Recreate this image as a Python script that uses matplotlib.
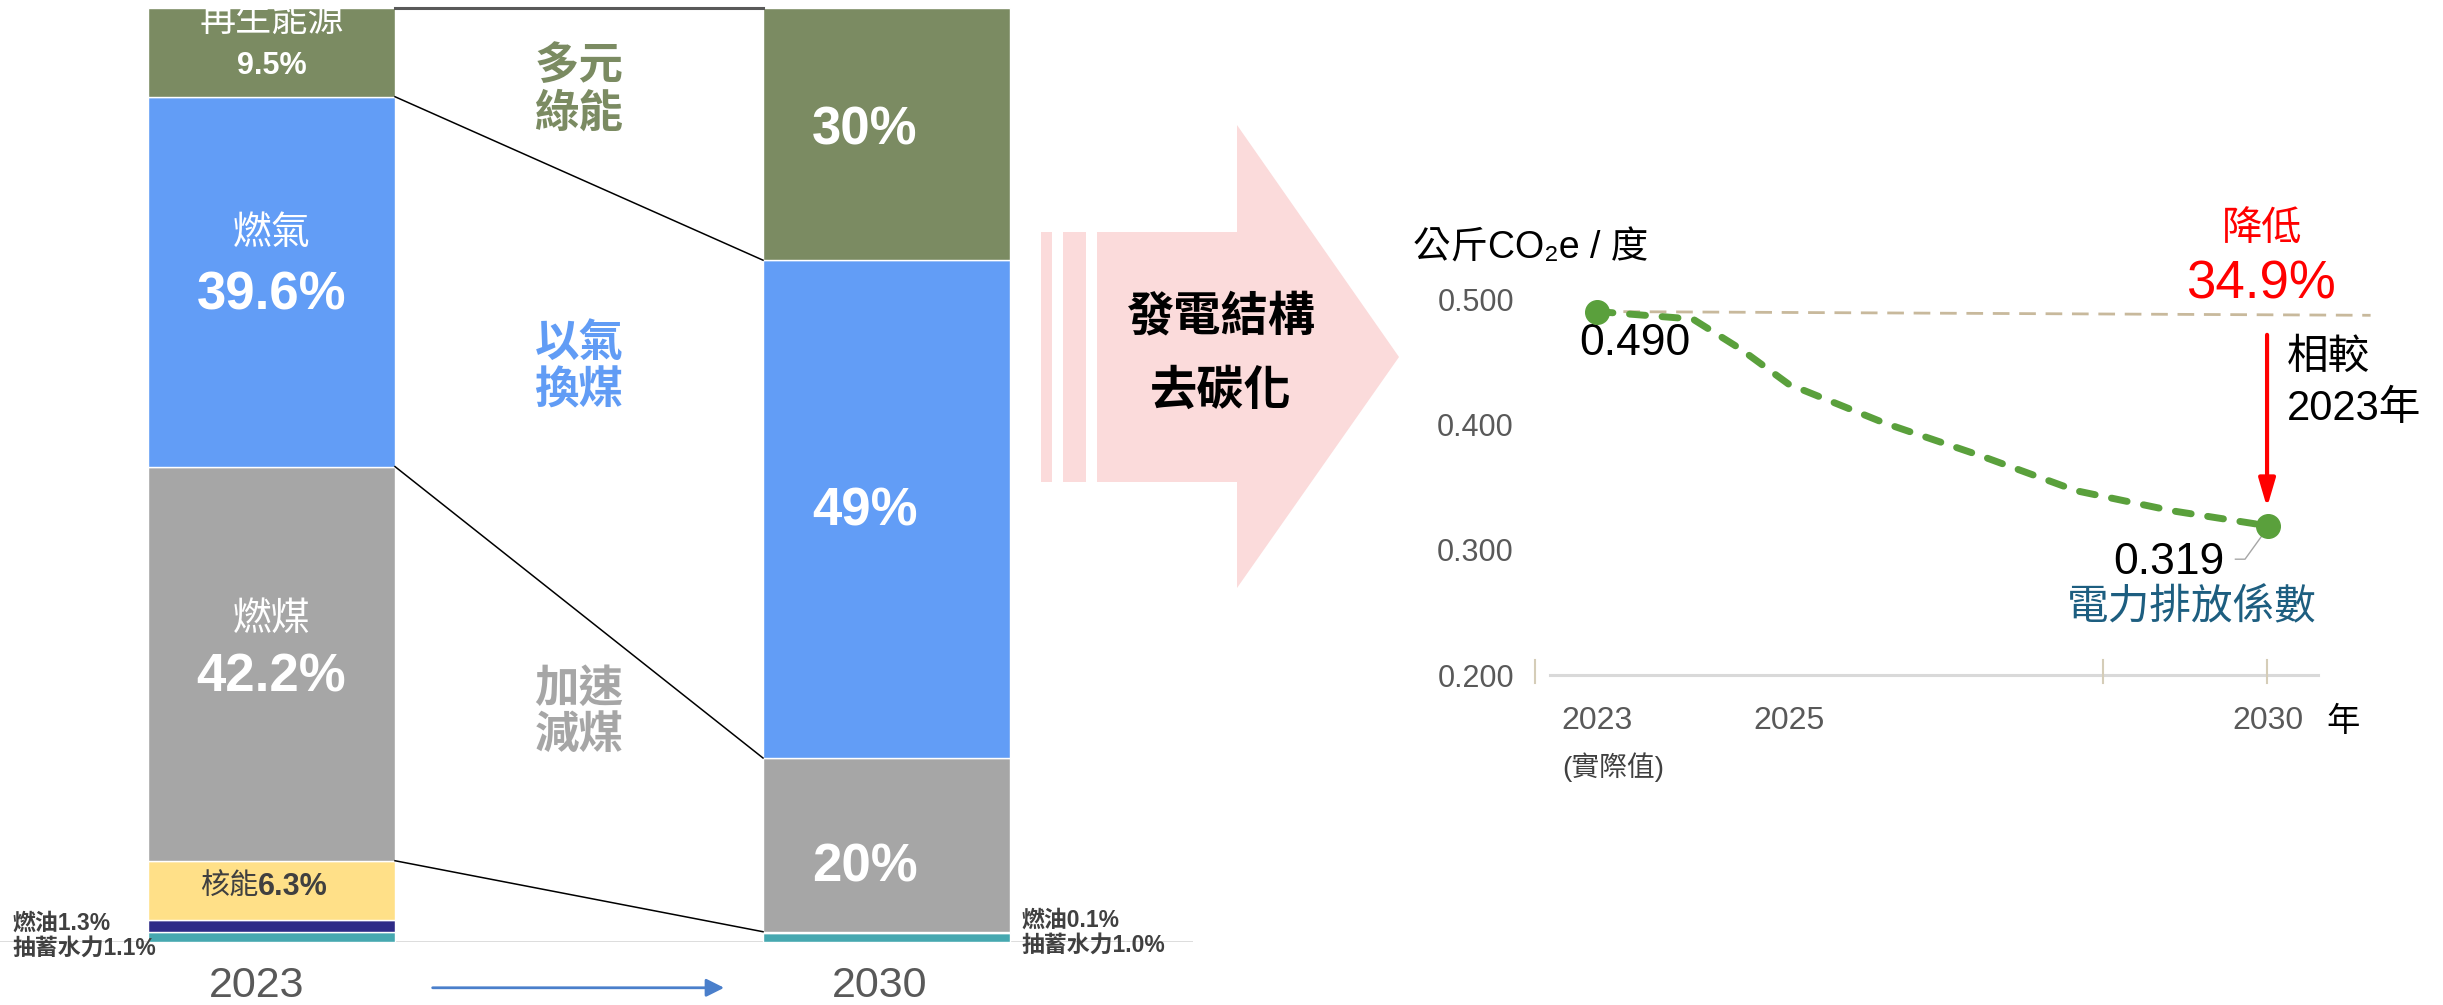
import numpy as np
import matplotlib.pyplot as plt
from matplotlib.patches import Polygon, Rectangle

# 發電結構 (%)，由下而上
fuel = ['抽蓄水力', '燃油', '核能', '燃煤', '燃氣', '再生能源']
fuel_colors = ['#46A8B0', '#2E2B87', '#FFE088', '#A6A6A6', '#629DF6', '#7B8B62']
share_2023 = [1.1, 1.3, 6.3, 42.2, 39.6, 9.5]
share_2030 = [1.0, 0.1, 0.0, 18.6, 53.3, 27.0]   # 圖上量到的高度
label_2030 = ['20%', '49%', '30%']                # 燃煤、燃氣、再生能源
years_bar = ['2023', '2030']

# 電力排放係數 (公斤CO2e/度)
ef_years = [2023, 2024, 2024.5, 2025, 2026, 2027, 2028, 2029, 2030]
ef_values = [0.490, 0.484, 0.460, 0.432, 0.401, 0.375, 0.347, 0.331, 0.319]
ref_years = [2023, 2031.07]
ref_values = [0.490, 0.487]
ytick_vals = [0.2, 0.3, 0.4, 0.5]
ytick_labels = ['0.200', '0.300', '0.400', '0.500']
xtick_vals = [2023, 2025, 2030]
xtick_labels = ['2023', '2025', '2030']
tick_marks = [2022.35, 2028.28, 2029.99]

# 字型
plt.rcParams['font.family'] = ['Liberation Sans', 'Noto Sans CJK TC', 'DejaVu Sans']

fig = plt.figure(figsize=(24.43, 10.05), dpi=100)

# ---- 粉紅箭頭 (畫素座標) ----
ax0 = fig.add_axes([0, 0, 1, 1])
ax0.set_xlim(0, 2443)
ax0.set_ylim(1005, 0)
ax0.axis('off')
pink = '#FBDBDB'
for x0, x1 in [(1041, 1052), (1063, 1086)]:
    ax0.add_patch(Rectangle((x0, 232), x1 - x0, 250, color=pink, lw=0))
ax0.add_patch(Polygon([(1097, 232), (1237, 232), (1237, 125), (1399, 357),
                       (1237, 588), (1237, 482), (1097, 482)], closed=True, color=pink, lw=0))
ax0.text(1221, 318, '發電結構', fontsize=34, fontweight='bold', ha='center', va='center')
ax0.text(1221, 393, '去碳化', fontsize=34, fontweight='bold', ha='center', va='center')

# ---- 左：堆疊長條 ----
ax1 = fig.add_axes([0, 63 / 1005, 1193 / 2443, 934 / 1005])
ax1.set_xlim(-0.4415, 1.4984)
ax1.set_ylim(0, 100)
ax1.axis('off')
w = 0.4016
bottom = np.zeros(2)
for name, c, a, b in zip(fuel, fuel_colors, share_2023, share_2030):
    ax1.bar([0, 1], [a, b], w, bottom=bottom, color=c, edgecolor='white', linewidth=1, zorder=2)
    bottom += [a, b]
ax1.axhline(0, color='#D9D9D9', lw=2, zorder=1)

cum23 = np.cumsum(share_2023)
cum30 = np.cumsum(share_2030)
for i in [4, 3, 2]:
    ax1.plot([w / 2, 1 - w / 2], [cum23[i], cum30[i]], color='black', lw=1.1, zorder=3)
ax1.plot([w / 2, 1 - w / 2], [cum23[5], cum30[5]], color='#595959', lw=2.2, clip_on=False, zorder=3)

# 2023 標籤
wt = dict(color='white', ha='center', va='center')
ax1.text(0, 98.6, '再生能源', fontsize=26, **wt)
ax1.text(0, 93.8, '9.5%', fontsize=22, fontweight='bold', **wt)
ax1.text(0, 75.8, '燃氣', fontsize=28, **wt)
ax1.text(0, 69.2, '39.6%', fontsize=38, fontweight='bold', **wt)
ax1.text(0, 34.5, '燃煤', fontsize=28, **wt)
ax1.text(0, 28.3, '42.2%', fontsize=38, fontweight='bold', **wt)
ax1.text(-0.022, 5.9, '核能', fontsize=21, color='#404040', ha='right', va='center')
ax1.text(-0.022, 5.9, '6.3%', fontsize=22, fontweight='bold', color='#404040', ha='left', va='center')
sm = dict(fontsize=16.5, fontweight='bold', color='#404040', va='center', clip_on=False)
ax1.text(-0.422, 2.0, '燃油1.3%', **sm)
ax1.text(-0.422, -0.64, '抽蓄水力1.1%', **sm)

# 2030 標籤
for txt, y in zip(label_2030, [8.0, 46.1, 86.9]):
    ax1.text(0.965, y, txt, fontsize=38, fontweight='bold', **wt)
ax1.text(1.22, 2.36, '燃油0.1%', **sm)
ax1.text(1.22, -0.32, '抽蓄水力1.0%', **sm)

# 中間說明
mid = dict(fontsize=32, fontweight='bold', ha='center', va='center', linespacing=1.15)
ax1.text(0.5, 91.1, '多元\n綠能', color='#7B8B62', **mid)
ax1.text(0.5, 61.5, '以氣\n換煤', color='#619CF5', **mid)
ax1.text(0.5, 24.5, '加速\n減煤', color='#A6A6A6', **mid)

# 年份與箭頭
for x, yr in zip([-0.024, 0.989], years_bar):
    ax1.text(x, -4.7, yr, fontsize=31, color='#595959', ha='center', va='center', clip_on=False)
ax1.annotate('', xy=(0.736, -4.9), xytext=(0.262, -4.9), annotation_clip=False,
             arrowprops=dict(arrowstyle='-|>,head_length=0.6,head_width=0.3', color='#4A7FCB',
                             lw=2, mutation_scale=18, shrinkA=0, shrinkB=0))

# ---- 右：排放係數 ----
ax2 = fig.add_axes([1527 / 2443, (1005 - 675) / 1005, 848 / 2443, 376 / 1005])
ax2.set_xlim(2022.27, 2031.116)
ax2.set_ylim(0.2, 0.5)
for s in ax2.spines.values():
    s.set_visible(False)
ax2.set_yticks(ytick_vals, ytick_labels)
ax2.set_xticks(xtick_vals, xtick_labels)
ax2.tick_params(axis='y', length=0, pad=9.4, labelsize=22, labelcolor='#595959')
ax2.tick_params(axis='x', length=0, pad=22, labelsize=23, labelcolor='#595959')

ax2.plot([2022.51, 2030.52], [0.2, 0.2], color='#D9D9D9', lw=2.2, clip_on=False, zorder=1)
for t in tick_marks:
    ax2.plot([t, t], [0.1936, 0.2119], color='#D5CDB8', lw=1.5, clip_on=False, zorder=1)

ax2.plot(ref_years, ref_values, color='#C8B99C', lw=2, dashes=(6, 3.5), clip_on=False, zorder=2)
ax2.plot(ef_years, ef_values, color='#5AA03C', lw=5, dashes=(2.3, 2.4),
         dash_capstyle='round', solid_joinstyle='round', zorder=3)
ax2.plot([ef_years[0], ef_years[-1]], [ef_values[0], ef_values[-1]], 'o',
         color='#5AA03C', ms=17, zorder=4, clip_on=False)

ax2.text(2023.17, 0.1268, '(實際值)', fontsize=20, color='#404040',
         ha='center', va='center', clip_on=False)
ax2.text(2030.78, 0.1618, '年', fontsize=24, color='black', ha='center', va='center', clip_on=False)
ax2.text(2021.08, 0.5406, '公斤CO₂e / 度', fontsize=27, color='black',
         ha='left', va='center', clip_on=False)

ax2.text(2023.40, 0.4642, f'{ef_values[0]:.3f}', fontsize=32, ha='center', va='center')
ax2.text(2029.55, 0.290, f'{ef_values[-1]:.3f}', fontsize=32, ha='right', va='center')
ax2.plot([2029.66, 2029.76, 2030], [0.2924, 0.2924, 0.3178], color='#A6A6A6', lw=1, zorder=2)
ax2.text(2029.20, 0.2534, '電力排放係數', fontsize=30, color='#1D5E80', ha='center', va='center')

drop = (ef_values[0] - ef_values[-1]) / ef_values[0] * 100
ax2.text(2029.94, 0.5557, '降低', fontsize=29, color='red', ha='center', va='center', clip_on=False)
ax2.text(2029.93, 0.5119, f'{drop:.1f}%', fontsize=38, color='red', ha='center', va='center', clip_on=False)
ax2.annotate('', xy=(2029.99, 0.3337), xytext=(2029.99, 0.4714),
             arrowprops=dict(arrowstyle='-|>,head_length=0.85,head_width=0.25', color='red',
                             lw=3, mutation_scale=20, shrinkA=0, shrinkB=0))
ax2.text(2030.20, 0.4531, '相較', fontsize=30, ha='left', va='center', clip_on=False)
ax2.text(2030.20, 0.4125, '2023年', fontsize=30, ha='left', va='center', clip_on=False)

fig.savefig('out.png', dpi=100)
